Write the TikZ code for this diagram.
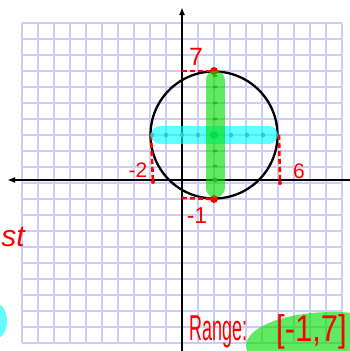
\documentclass[tikz,border=0pt]{standalone}
\usepackage{fontspec}
\setmainfont{Liberation Sans}
\usetikzlibrary{arrows.meta}
\definecolor{gridc}{RGB}{204,204,246}
\definecolor{hred}{RGB}{255,0,0}
\definecolor{hcyan}{RGB}{0,255,255}
\definecolor{hgreen}{RGB}{0,222,0}
\definecolor{dotgrey}{RGB}{120,120,120}
\definecolor{dotolive}{RGB}{120,130,30}
\definecolor{ctrdot}{RGB}{0,170,100}
\begin{document}
\begin{tikzpicture}[x=1pt,y=-1pt,
  gridline/.style={draw=gridc,line width=1.8pt},
  axisline/.style={line width=2.3pt,black,-{Latex[length=8pt,width=6pt]}},
  reddash/.style={draw=hred,line width=2.6pt,dash pattern=on 5pt off 3pt},
  redlabel/.style={text=hred,inner sep=0pt},
  hlbar/.style={line width=#1,line cap=round,opacity=0.62},
  reddot/.style={fill=hred},
  smalldot/.style={fill=dotgrey}
]
\fill[white] (0,0) rectangle (349,351);
\useasboundingbox (0,0) rectangle (349,351);
% grid
\foreach \i in {0,...,20} {
  \draw[gridline] (22+16*\i,23) -- (22+16*\i,343);
  \draw[gridline] (22,23+16*\i) -- (342,23+16*\i);
}
% axes
\coordinate (ytop) at (182,7);
\coordinate (ybot) at (182,353);
\coordinate (xl) at (7,180);
\coordinate (xr) at (351,180);
\draw[axisline] (ybot) -- (ytop);
\draw[axisline] (xr) -- (xl);
% key points
\coordinate (ctr) at (214,135);
\coordinate (top) at (214,71);
\coordinate (bot) at (214,199);
\coordinate (lft) at (151,135);
\coordinate (rgt) at (279,135);
\coordinate (y7) at (182,71);
\coordinate (ym1) at (182,198);
\coordinate (xm2) at (153,182);
\coordinate (x6) at (280,183);
% circle
\draw[line width=2.3pt,black] (ctr) circle[radius=63.5pt];
% red dashed guides
\draw[reddash] (y7) -- (top);
\draw[reddash] (ym1) -- (bot);
\draw[reddash] (lft) -- (xm2);
\draw[reddash] (rgt) -- (x6);
% dots along bars
\foreach \x in {152,166,182,198,231,247,263} {
  \fill[smalldot] (\x,135) ellipse[x radius=2pt,y radius=2.6pt];
}
\foreach \y in {76,87,103,119,151,166} {
  \fill[dotolive] (215,\y) ellipse[x radius=2.4pt,y radius=1.4pt];
}
\fill[dotgrey] (215,180) circle[radius=2.5pt];
\fill[ctrdot] (ctr) circle[radius=4pt];
% red points
\fill[reddot] (top) circle[radius=4pt];
\fill[reddot] (bot) circle[radius=4pt];
\fill[reddot] (xm2) circle[radius=2pt];
\fill[reddot] (x6) circle[radius=2pt];
% highlight bars
\coordinate (cyA) at (160,135);
\coordinate (cyB) at (269,135);
\coordinate (grA) at (215,80);
\coordinate (grB) at (215,188);
\draw[hlbar=18pt,hcyan] (cyA) -- (cyB);
\draw[hlbar=19pt,hgreen] (grA) -- (grB);
% labels
\node[redlabel,font=\fontsize{25}{25}\selectfont] (l7) at (196,57) {7};
\node[redlabel,font=\fontsize{21}{21}\selectfont] (l6) at (299,171) {6};
\node[redlabel,font=\fontsize{21}{21}\selectfont] (lm2) at (138,170) {-2};
\node[redlabel,font=\fontsize{23}{23}\selectfont] (lm1) at (197,216) {-1};
% left fragments
\node[redlabel,font=\fontsize{30}{30}\selectfont\itshape,anchor=base east] (st) at (25,246) {st};
\fill[hcyan,opacity=0.62] (-3,321) ellipse[x radius=10pt,y radius=17pt];
% range highlight
\fill[hgreen,opacity=0.62] (333,346) ellipse[x radius=87pt,y radius=34pt];
\node[redlabel,font=\fontsize{36}{36}\selectfont,anchor=base west] (rng) at (189,340) {\scalebox{0.5}[1]{Range:}};
\node[redlabel,font=\fontsize{31}{31}\selectfont,anchor=base west] (rval) at (276,341) {\scalebox{1}[1.2]{[-1,7]}};
\end{tikzpicture}
\end{document}
